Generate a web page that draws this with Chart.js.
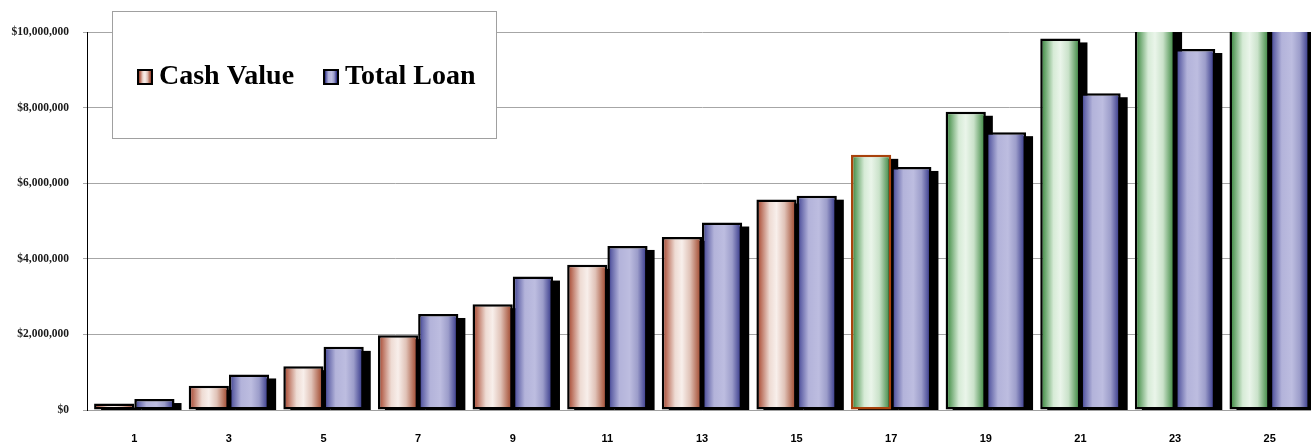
<!DOCTYPE html>
<html>
<head>
<meta charset="utf-8">
<script src="https://cdn.jsdelivr.net/npm/chart.js@4"></script>
<style>
  html, body { margin: 0; padding: 0; background: #fff; overflow: hidden; }
  #wrap { width: 1318px; height: 445px; }
</style>
</head>
<body>
<div id="wrap"><canvas id="c" width="1318" height="445"></canvas></div>
<script>
// Policy years shown on the axis
const years = ['1', '3', '5', '7', '9', '11', '13', '15', '17', '19', '21', '23', '25'];
// Accumulated cash value by year (USD)
const cashValue = [170000, 640000, 1160000, 1980000, 2800000, 3840000, 4580000, 5570000, 6750000, 7890000, 9830000, 11800000, 13900000];
// Outstanding total loan by year (USD)
const totalLoan = [290000, 940000, 1670000, 2540000, 3530000, 4340000, 4960000, 5670000, 6430000, 7350000, 8380000, 9550000, 10800000];
// Value axis ticks
const yTicks = [0, 2000000, 4000000, 6000000, 8000000, 10000000];
const seriesNames = ['Cash Value', 'Total Loan'];

const CAT_PCT = 0.85;
const SHADOW_DX = 7, SHADOW_DY = 4;

const palettes = {
  red:   [[0, '#963e2c'], [0.1, '#b86a56'], [0.33, '#eedbd3'], [0.5, '#f8efeb'], [0.7, '#e0c2b7'], [0.9, '#b0664f'], [1, '#963e2c']],
  green: [[0, '#2a7a30'], [0.1, '#5f9f62'], [0.33, '#d6ebd6'], [0.5, '#eaf5ea'], [0.7, '#cae2ca'], [0.9, '#609e63'], [1, '#2a7a30']],
  blue:  [[0, '#262880'], [0.1, '#6264a8'], [0.3, '#b3b3da'], [0.55, '#bdbde0'], [0.75, '#9c9dca'], [0.9, '#56589e'], [1, '#262880']]
};

function makeGradient(ctx2d, x0, x1, stops) {
  const g = ctx2d.createLinearGradient(x0, 0, x1, 0);
  stops.forEach(s => g.addColorStop(s[0], s[1]));
  return g;
}

// Horizontal gradient across each bar, positioned from the category scale
function barFill(context) {
  const chart = context.chart;
  const xs = chart.scales.x;
  const ds = context.datasetIndex;
  const i = context.dataIndex;
  const pal = ds === 1 ? palettes.blue : (parseInt(years[i], 10) >= 17 ? palettes.green : palettes.red);
  if (!xs || xs.ticks.length < 2) return pal[3][1];
  const p0 = xs.getPixelForValue(0), p1 = xs.getPixelForValue(1);
  const c = xs.getPixelForValue(i);
  if (!isFinite(p0) || !isFinite(p1) || !isFinite(c)) return pal[3][1];
  const size = Math.abs(p1 - p0) * CAT_PCT;
  const chunk = size / 2;
  const left = c - size / 2 + chunk * ds;
  return makeGradient(chart.ctx, left, left + chunk, pal);
}

// Solid offset drop shadow behind every bar, kept inside the plot area
const shadowPlugin = {
  id: 'barShadow',
  beforeDatasetsDraw(chart) {
    const ctx = chart.ctx;
    const area = chart.chartArea;
    ctx.save();
    ctx.beginPath();
    ctx.rect(area.left, area.top, area.right - area.left + 20, area.bottom - area.top);
    ctx.clip();
    ctx.fillStyle = '#000';
    chart.data.datasets.forEach((d, di) => {
      const meta = chart.getDatasetMeta(di);
      meta.data.forEach(el => {
        const p = el.getProps(['x', 'y', 'base', 'width'], true);
        const left = p.x - p.width / 2;
        const top = Math.min(p.y, p.base);
        const bottom = Math.max(p.y, p.base);
        ctx.fillRect(left + SHADOW_DX, top + SHADOW_DY, p.width, bottom - top);
      });
    });
    ctx.restore();
  }
};

// Boxed legend floating over the upper left of the plot
const boxLegend = {
  id: 'boxLegend',
  afterDraw(chart) {
    const ctx = chart.ctx;
    ctx.save();
    ctx.fillStyle = '#fff';
    ctx.fillRect(113, 12, 383, 126);
    ctx.strokeStyle = '#a0a0a0';
    ctx.lineWidth = 1;
    ctx.strokeRect(112.5, 11.5, 384, 127);

    const items = [
      { x: 137, text: seriesNames[0], pal: palettes.red },
      { x: 323, text: seriesNames[1], pal: palettes.blue }
    ];
    ctx.font = 'bold 28px "Liberation Serif", "Times New Roman", serif';
    ctx.textBaseline = 'alphabetic';
    ctx.textAlign = 'left';
    items.forEach(it => {
      ctx.fillStyle = '#000';
      ctx.fillRect(it.x, 69, 16, 16);
      ctx.fillStyle = makeGradient(ctx, it.x + 2, it.x + 14, it.pal);
      ctx.fillRect(it.x + 2, 71, 12, 12);
      ctx.fillStyle = '#000';
      ctx.fillText(it.text, it.x + 22, 84);
    });
    ctx.restore();
  }
};

new Chart(document.getElementById('c'), {
  type: 'bar',
  data: {
    labels: years,
    datasets: [
      {
        label: seriesNames[0],
        data: cashValue,
        backgroundColor: barFill,
        borderColor: (c) => years[c.dataIndex] === '17' ? '#a8420c' : '#000',
        borderWidth: 2.5,
        borderSkipped: false,
        clip: { top: 0, left: false, right: false, bottom: false }
      },
      {
        label: seriesNames[1],
        data: totalLoan,
        backgroundColor: barFill,
        borderColor: '#000',
        borderWidth: 2.5,
        borderSkipped: false,
        clip: { top: 0, left: false, right: false, bottom: false }
      }
    ]
  },
  options: {
    responsive: false,
    animation: false,
    devicePixelRatio: 1,
    categoryPercentage: CAT_PCT,
    barPercentage: 1,
    layout: { padding: { top: 32, right: 1, bottom: 0, left: 0 } },
    plugins: {
      legend: { display: false },
      tooltip: { enabled: false }
    },
    scales: {
      x: {
        offset: true,
        grid: { display: false, drawTicks: false },
        border: { display: true, color: '#a0a0a0', width: 1 },
        ticks: {
          autoSkip: false,
          maxRotation: 0,
          padding: 22,
          color: '#000',
          font: { family: '"Liberation Sans", Arial, sans-serif', size: 11, weight: 'bold' }
        },
        afterFit(scale) { scale.height = 35; }
      },
      y: {
        min: 0,
        max: 10000000,
        afterBuildTicks(scale) { scale.ticks = yTicks.map(v => ({ value: v })); },
        grid: { color: '#a6a6a6', lineWidth: 1, tickLength: 4, drawTicks: true },
        border: { display: true, color: '#000', width: 1 },
        ticks: {
          padding: 14,
          color: '#1a1a1a',
          font: { family: '"Liberation Serif", "Times New Roman", serif', size: 11.5, weight: 'bold' },
          callback: (v) => '$' + Number(v).toLocaleString('en-US')
        },
        afterFit(scale) { scale.width = 87; }
      }
    }
  },
  plugins: [shadowPlugin, boxLegend]
});
</script>
</body>
</html>
